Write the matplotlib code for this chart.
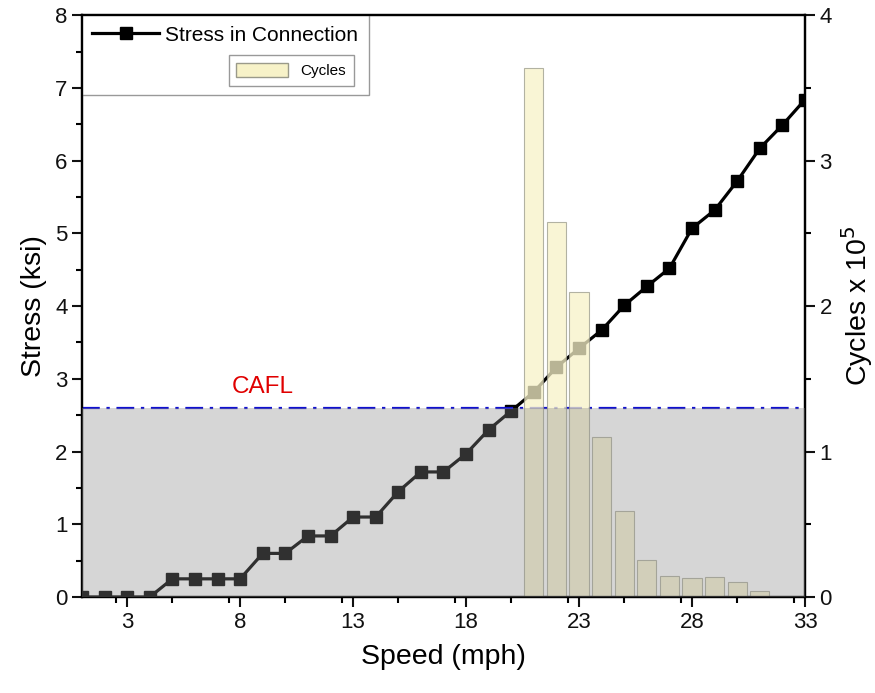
import matplotlib
matplotlib.use('Agg')
import matplotlib.pyplot as plt
from matplotlib.ticker import MultipleLocator
from matplotlib.patches import Patch
from matplotlib.lines import Line2D

plt.rcParams['font.family'] = ['Liberation Sans', 'DejaVu Sans']

# Stress in connection vs speed
speed = list(range(1, 34))
stress = [0, 0, 0, 0, 0.25, 0.25, 0.25, 0.25, 0.6, 0.6, 0.84, 0.84, 1.1, 1.1,
          1.45, 1.72, 1.72, 1.97, 2.3, 2.56, 2.82, 3.16, 3.42, 3.67, 4.01,
          4.27, 4.52, 5.07, 5.32, 5.72, 6.17, 6.49, 6.84]

# Cycles (x 10^5) per speed bin
bar_speed = [21, 22, 23, 24, 25, 26, 27, 28, 29, 30, 31]
cycles = [3.64, 2.58, 2.10, 1.10, 0.59, 0.255, 0.146, 0.13, 0.137, 0.10, 0.04]

cafl = 2.6
x_ticks = [3, 8, 13, 18, 23, 28, 33]

fig = plt.figure(figsize=(8.75, 6.93), dpi=100)
ax = fig.add_axes([0.0937, 0.1385, 0.8263, 0.8395])
ax2 = ax.twinx()

# stress line
line, = ax.plot(speed, stress, color='black', linewidth=2.3, marker='s',
                markersize=8.5, zorder=3)

# cycles bars, drawn over the line
ax2.bar(bar_speed, cycles, width=0.85, color='#f7f2c8', alpha=0.75,
        edgecolor='#9a9a8a', linewidth=0.8, zorder=2)

# CAFL threshold and shaded region below it (on top of everything)
ax2.axhspan(0, cafl / 2, color='#8a8a8a', alpha=0.35, linewidth=0, zorder=5)
ax.axhline(cafl, color='#1010d0', linestyle=(0, (8, 3, 1.5, 3)), linewidth=1.6,
           zorder=4)
ax.text(9.0, 2.89, 'CAFL', color='#e00000', fontsize=17.5, ha='center',
        va='center')

ax.set_xlim(1, 33)
ax.set_ylim(0, 8)
ax2.set_ylim(0, 4)

ax.set_xticks(x_ticks)
ax.xaxis.set_minor_locator(MultipleLocator(2.5))
ax.yaxis.set_major_locator(MultipleLocator(1))
ax.yaxis.set_minor_locator(MultipleLocator(0.5))
ax2.yaxis.set_major_locator(MultipleLocator(1))
ax2.yaxis.set_minor_locator(MultipleLocator(0.5))

for a in (ax, ax2):
    a.tick_params(which='major', direction='out', length=7, width=1.5,
                  labelsize=16, colors='#111111')
    a.tick_params(which='minor', direction='out', length=4, width=1.5)
    for s in a.spines.values():
        s.set_linewidth(1.6)

ax.set_xlabel('Speed (mph)', fontsize=20.5, labelpad=8)
ax.set_ylabel('Stress (ksi)', fontsize=20.5, labelpad=6)
ax2.set_ylabel('Cycles x 10$^5$', fontsize=20.5, labelpad=5)

# legends
blank = Line2D([], [], linestyle='none')
leg1 = ax.legend([line, blank], ['Stress in Connection', ' '],
                 loc='upper left', bbox_to_anchor=(0, 1), borderaxespad=0,
                 fontsize=15, fancybox=False, framealpha=1,
                 edgecolor='#999999', handlelength=3.2, labelspacing=1.0,
                 borderpad=0.5, handletextpad=0.3)
leg1.set_zorder(6)
leg2 = ax2.legend([Patch(facecolor='#f7f2c8', edgecolor='#9a9a8a')], ['Cycles'],
                  loc='upper right', bbox_to_anchor=(0.376, 0.931),
                  borderaxespad=0, fontsize=11, fancybox=False,
                  framealpha=1, edgecolor='#999999', handlelength=3.4,
                  handleheight=1.0, borderpad=0.5)
leg2.set_zorder(7)

fig.savefig('out.png', dpi=100)
